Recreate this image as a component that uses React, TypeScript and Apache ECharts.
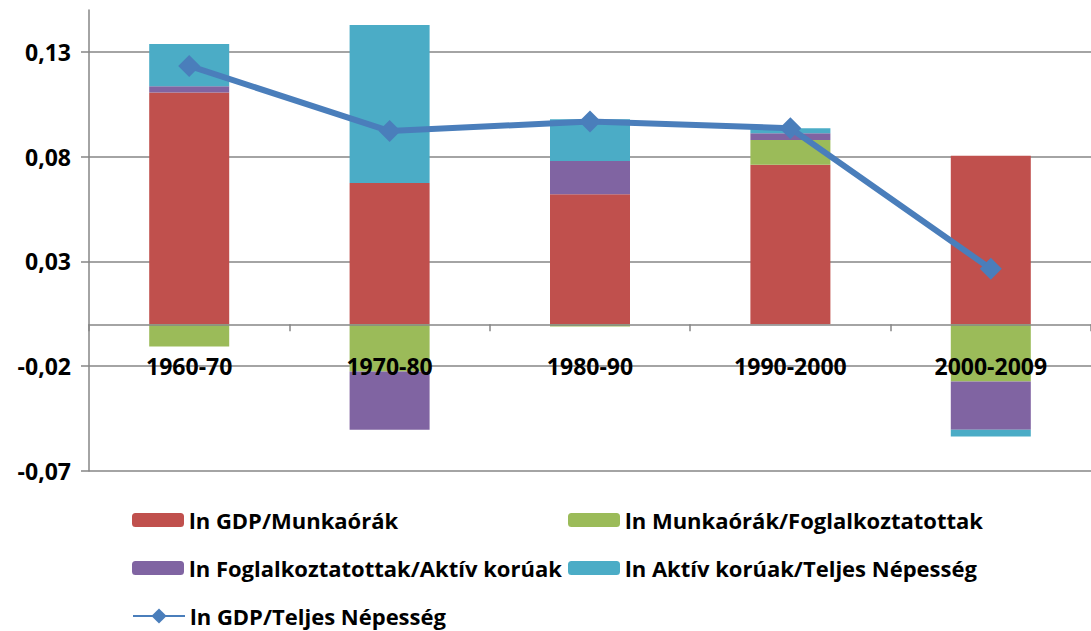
import React, { useEffect, useRef } from "react";
import * as echarts from "echarts";

const categories = ["1960-70", "1970-80", "1980-90", "1990-2000", "2000-2009"];
const gdpPerHours = [0.1106, 0.0674, 0.0621, 0.0762, 0.0804];
const hoursPerEmployed = [-0.0106, -0.0225, -0.001, 0.0118, -0.0273];
const employedPerActive = [0.003, -0.0278, 0.0158, 0.0032, -0.023];
const activePerPopulation = [0.0202, 0.0755, 0.02, 0.0024, -0.0032];
const gdpPerPopulation = [0.1233, 0.0922, 0.0968, 0.0936, 0.0265];
const yTicks = [-0.07, -0.02, 0.03, 0.08, 0.13];
const Y_MIN = -0.07;
const Y_MAX = 0.15;

const names = [
  "ln GDP/Munkaórák",
  "ln Munkaórák/Foglalkoztatottak",
  "ln Foglalkoztatottak/Aktív korúak",
  "ln Aktív korúak/Teljes Népesség",
  "ln GDP/Teljes Népesség",
];
const colors = ["#C0504D", "#9BBB59", "#8064A2", "#4BACC6", "#4A7EBB"];

const FONT = "Open Sans";

export default function App() {
  const ref = useRef<HTMLDivElement>(null);
  useEffect(() => {
    if (!ref.current) return;
    const chart = echarts.init(ref.current, null, { renderer: "svg" });
    const barData = [gdpPerHours, hoursPerEmployed, employedPerActive, activePerPopulation];
    const gridTop = 10;
    const gridBottom = 160;
    const gridHeight = 631 - gridTop - gridBottom;
    const zeroOffset = -(gridHeight * (0 - Y_MIN)) / (Y_MAX - Y_MIN);
    const legendPos = [
      { left: 132, top: 507 },
      { left: 568, top: 507 },
      { left: 132, top: 555 },
      { left: 568, top: 555 },
      { left: 132, top: 603 },
    ];
    const textStyle = { fontFamily: FONT, fontWeight: "bold", fontSize: 22, color: "#000", lineHeight: 26 };
    chart.setOption({
      animation: false,
      grid: { left: 89, top: gridTop, width: 1006, bottom: gridBottom, containLabel: false },
      legend: names.map((n, i) => ({
        data: [n],
        left: legendPos[i].left,
        top: legendPos[i].top,
        itemWidth: 52,
        itemHeight: i === 4 ? 19 : 14,
        itemGap: 0,
        padding: 0,
        selectedMode: false,
        textStyle,
      })),
      xAxis: {
        type: "category",
        data: categories,
        z: 10,
        offset: zeroOffset,
        axisLine: { show: true, onZero: false, lineStyle: { color: "#868686", width: 1.5 } },
        axisTick: { show: true, length: 7, lineStyle: { color: "#868686", width: 1.5 } },
        axisLabel: { margin: 30, fontFamily: FONT, fontWeight: "bold", fontSize: 23, color: "#000" },
        splitLine: { show: false },
      },
      yAxis: {
        type: "value",
        min: Y_MIN,
        max: Y_MAX,
        axisLine: { show: true, lineStyle: { color: "#868686", width: 1.5 } },
        axisTick: { show: true, length: 8, customValues: yTicks, lineStyle: { color: "#868686", width: 1.5 } },
        axisLabel: {
          customValues: yTicks,
          margin: 18,
          fontFamily: FONT,
          fontWeight: "bold",
          fontSize: 23,
          color: "#000",
          formatter: (v: number) => v.toFixed(2).replace(".", ","),
        },
        splitLine: { show: true, lineStyle: { color: "#868686", width: 1.5 } },
      },
      series: [
        ...barData.map((d, i) => ({
          name: names[i],
          type: "bar",
          stack: "total",
          data: d,
          barWidth: 80,
          itemStyle: { color: colors[i] },
        })),
        {
          name: names[4],
          type: "line",
          data: gdpPerPopulation,
          symbol: "diamond",
          symbolSize: 22,
          z: 5,
          itemStyle: { color: colors[4] },
          lineStyle: { color: colors[4], width: 6 },
        },
      ],
    });
    return () => chart.dispose();
  }, []);
  return (
    <div
      ref={ref}
      style={{ position: "fixed", left: 0, top: 0, width: 1091, height: 631, background: "#fff" }}
    />
  );
}
